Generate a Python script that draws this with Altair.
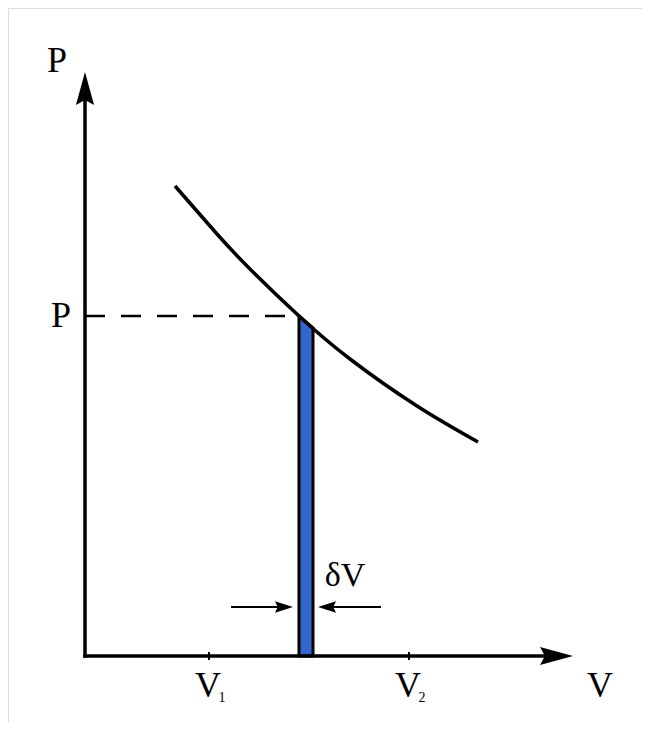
import altair as alt
import pandas as pd

# ---- data (V, P in diagram units, origin at the axes' corner) ----
curve_V = [90, 132, 165, 214, 265, 332, 393]
curve_P = [470, 422, 387, 340, 297, 250, 214]

strip_V = [214, 228]          # the thin strip of width dV
strip_P = [340, 328]

point_V = 214                 # V where the dashed line meets the curve
point_P = 340

tick_V = [124, 324]           # V1, V2
tick_names = ["1", "2"]

axis_V_end = 488              # tip of V axis arrow
axis_P_end = 584              # tip of P axis arrow

dv_left = [146, 208]          # left small arrow (tail, tip)
dv_right = [296, 233]         # right small arrow (tail, tip)
dv_P = 49

FONT = "Liberation Serif"
ARROW_BIG = "M1,0 L-1,-0.55 L-0.7,0 L-1,0.55 Z"
ARROW_SMALL = "M1,0 L-1,-0.65 L-0.7,0 L-1,0.65 Z"

xs = alt.Scale(domain=[-77, 557], nice=False, zero=False)
ys = alt.Scale(domain=[-66, 648], nice=False, zero=False)


def X(f):
    return alt.X(f, type="quantitative", scale=xs, axis=None)


def Y(f):
    return alt.Y(f, type="quantitative", scale=ys, axis=None)


curve_df = pd.DataFrame({"V": curve_V, "P": curve_P})
strip_df = pd.DataFrame({"V": strip_V, "P": strip_P, "P0": [0, 0]})

strip = alt.Chart(strip_df).mark_area(
    fill="#3366CC", stroke="black", strokeWidth=3, strokeJoin="miter", opacity=1
).encode(x=X("V"), y=Y("P"), y2="P0:Q")

curve = alt.Chart(curve_df).mark_line(
    color="black", strokeWidth=3.5, interpolate="natural"
).encode(x=X("V"), y=Y("P"))

dash_df = pd.DataFrame({"x1": [0], "x2": [point_V], "y1": [point_P]})
dashed = alt.Chart(dash_df).mark_rule(
    color="black", strokeWidth=2.5, strokeDash=[20, 16]
).encode(x=X("x1"), x2="x2:Q", y=Y("y1"))

axes_df = pd.DataFrame({
    "x1": [0, 0],
    "y1": [0, 0],
    "x2": [axis_V_end - 20, 0],
    "y2": [0, axis_P_end - 20],
})
axes = alt.Chart(axes_df).mark_rule(
    color="black", strokeWidth=3.5, strokeCap="square"
).encode(x=X("x1"), y=Y("y1"), x2="x2:Q", y2="y2:Q")

head_len = 16.5  # half of arrowhead length, in diagram units (1 unit = 1 px)
xhead = alt.Chart(pd.DataFrame({"V": [axis_V_end - head_len], "P": [0]})).mark_point(
    shape=ARROW_BIG, filled=True, color="black", size=33 * 33, opacity=1, strokeWidth=0
).encode(x=X("V"), y=Y("P"))
yhead = alt.Chart(pd.DataFrame({"V": [0], "P": [axis_P_end - head_len]})).mark_point(
    shape=ARROW_BIG, filled=True, color="black", size=33 * 33, opacity=1, strokeWidth=0, angle=270
).encode(x=X("V"), y=Y("P"))

tick_df = pd.DataFrame({"V": tick_V, "lo": [-4, -4], "hi": [4, 4]})
ticks = alt.Chart(tick_df).mark_rule(color="black", strokeWidth=2).encode(
    x=X("V"), y=Y("lo"), y2="hi:Q"
)

shaft_df = pd.DataFrame({
    "x1": [dv_left[0], dv_right[0]],
    "x2": [dv_left[1] - 8, dv_right[1] + 8],
    "y1": [dv_P, dv_P],
})
shafts = alt.Chart(shaft_df).mark_rule(color="black", strokeWidth=2).encode(
    x=X("x1"), x2="x2:Q", y=Y("y1")
)
sh = 9
lhead = alt.Chart(pd.DataFrame({"V": [dv_left[1] - sh], "P": [dv_P]})).mark_point(
    shape=ARROW_SMALL, filled=True, color="black", size=18 * 18, opacity=1, strokeWidth=0
).encode(x=X("V"), y=Y("P"))
rhead = alt.Chart(pd.DataFrame({"V": [dv_right[1] + sh], "P": [dv_P]})).mark_point(
    shape=ARROW_SMALL, filled=True, color="black", size=18 * 18, opacity=1, strokeWidth=0, angle=180
).encode(x=X("V"), y=Y("P"))

big_labels = pd.DataFrame({
    "V": [-28, -24, 515, 123, 323],
    "P": [584, 329, -41, -41, -41],
    "t": ["P", "P", "V", "V", "V"],
})
big_text = alt.Chart(big_labels).mark_text(
    font=FONT, fontSize=36, color="black", align="center", baseline="alphabetic"
).encode(x=X("V"), y=Y("P"), text="t:N")

sub_labels = pd.DataFrame({"V": [v + 13 for v in tick_V], "P": [-46, -46], "t": tick_names})
sub_text = alt.Chart(sub_labels).mark_text(
    font=FONT, fontSize=14, color="black", align="center", baseline="alphabetic"
).encode(x=X("V"), y=Y("P"), text="t:N")

dv_text = alt.Chart(pd.DataFrame({"V": [260], "P": [70], "t": ["δV"]})).mark_text(
    font=FONT, fontSize=34, color="black", align="center", baseline="alphabetic"
).encode(x=X("V"), y=Y("P"), text="t:N")

chart = alt.layer(
    strip, dashed, curve, axes, xhead, yhead, ticks, shafts, lhead, rhead,
    big_text, sub_text, dv_text,
).properties(
    width=634, height=714, padding=0, autosize=alt.AutoSizeParams(type="none")
).configure_view(stroke=None).configure(background="white")

chart.save("out.html", embed_options={"renderer": "svg", "actions": False})
